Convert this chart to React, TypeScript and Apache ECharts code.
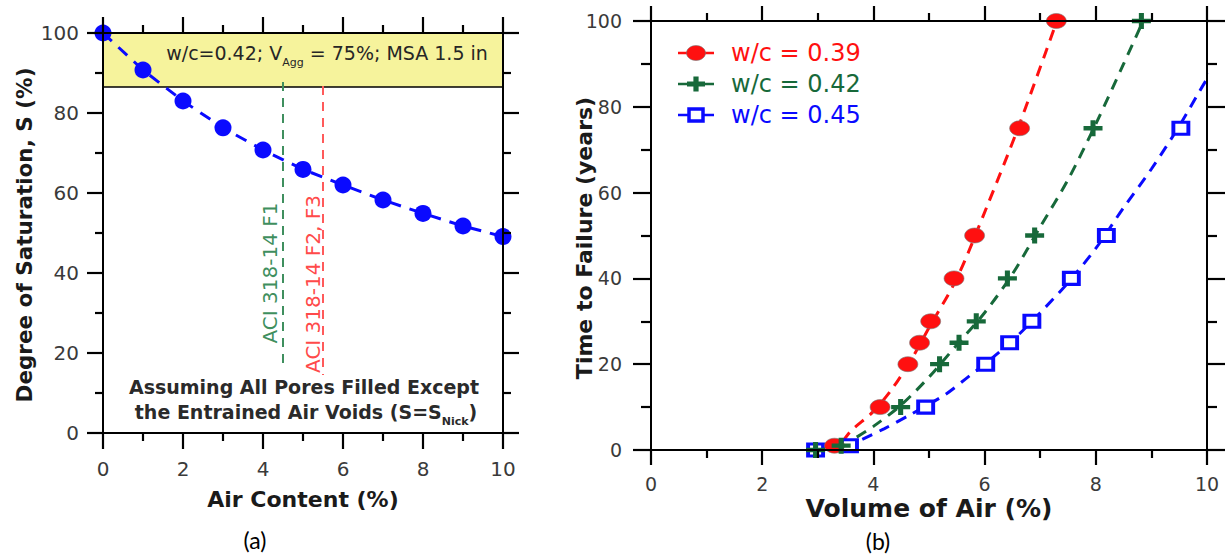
import React, { useEffect, useRef } from "react";
import * as echarts from "echarts";

// ---------- Panel (a) data ----------
const AIR_CONTENT = [0, 1, 2, 3, 4, 5, 6, 7, 8, 9, 10];
const SATURATION = [100, 90.75, 83, 76.3, 70.75, 65.9, 62, 58.25, 54.9, 51.75, 49.1];
const ACI_F1_LINE = [[4.5, 87.75], [4.5, 17.5]];
const ACI_F23_LINE = [[5.5, 86.75], [5.5, 14.5]];
const BOX_RANGE = [86.5, 100];
const LEFT_X_TICKS = { min: 0, max: 10, interval: 2 };
const LEFT_Y_TICKS = { min: 0, max: 100, interval: 20 };

// ---------- Panel (b) data ----------
const LEGEND_LABELS = ["w/c = 0.39", "w/c = 0.42", "w/c = 0.45"];
const RED_X = [3.3, 4.12, 4.62, 4.83, 5.03, 5.45, 5.82, 6.63, 7.29];
const RED_Y = [1, 10, 20, 25, 30, 40, 50, 75, 100];
const GREEN_X = [2.96, 3.42, 4.49, 5.19, 5.54, 5.85, 6.41, 6.9, 7.95, 8.82];
const GREEN_Y = [0, 1, 10, 20, 25, 30, 40, 50, 75, 100];
const BLUE_X = [2.96, 3.57, 4.94, 6.02, 6.45, 6.85, 7.56, 8.19, 9.53];
const BLUE_Y = [0, 1, 10, 20, 25, 30, 40, 50, 75];
const RED_FIT_X = [3.45, 3.6, 4.0, 4.35, 4.7, 5.0, 5.5, 6.05, 6.6, 7.3];
const RED_FIT_Y = [2, 4.5, 9, 14.5, 21.5, 28.5, 40, 57, 75, 100];
const GREEN_FIT_X = [3.7, 4.0, 4.5, 5.0, 5.5, 6.0, 6.5, 7.0, 7.5, 8.0, 8.5, 8.85];
const GREEN_FIT_Y = [3, 5.5, 10.5, 17, 24.5, 32, 41, 52, 63, 76, 90, 100];
const BLUE_FIT_X = [3.8, 4.2, 4.7, 5.3, 5.7, 6.0, 6.5, 7.0, 7.5, 8.0, 8.5, 9.0, 9.5, 10.0, 10.35];
const BLUE_FIT_Y = [2.5, 5, 8.5, 13, 17, 20, 25.5, 32, 39, 47, 56.5, 65.5, 75.5, 86.5, 93];
const RIGHT_X_TICKS = { min: 0, max: 10, interval: 2 };
const RIGHT_Y_TICKS = { min: 0, max: 100, interval: 20 };

const zip = (xs: number[], ys: number[]) => xs.map((x, i) => [x, ys[i]]);

const FONT = "DejaVu Sans";
const RED = "#ff1010";
const GREEN = "#17693a";
const BLUE = "#0a0aff";
const PLUS_PATH = "path://M5.5,0H9.5V5.5H15V9.5H9.5V15H5.5V9.5H0V5.5H5.5Z";

function makeAxis(grid: number, pos: string, ticks: any, showLabel: boolean, majorLen: number, minorLen: number, margin: number, fontSize: number) {
  return {
    type: "value",
    gridIndex: grid,
    position: pos,
    min: ticks.min,
    max: ticks.max,
    interval: ticks.interval,
    z: 10,
    axisLine: { show: true, onZero: false, lineStyle: { color: "#000", width: 2 } },
    axisTick: { show: true, inside: false, length: majorLen, lineStyle: { color: "#000", width: 2.2 } },
    minorTick: { show: true, splitNumber: 2, length: minorLen, lineStyle: { color: "#000", width: 2.2 } },
    splitLine: { show: false },
    minorSplitLine: { show: false },
    axisLabel: { show: showLabel, margin, color: "#3a3a3a", fontSize, fontFamily: FONT },
  };
}

function legendItems() {
  const rows = [53, 84, 115];
  const x1 = 678, x2 = 714, cx = 696, tx = 731;
  const colors = [RED, GREEN, BLUE];
  const els: any[] = [];
  rows.forEach((y, i) => {
    els.push({ type: "line", shape: { x1, y1: y, x2, y2: y }, style: { stroke: colors[i], lineWidth: 2.5 }, z: 10 });
    if (i === 0) {
      els.push({ type: "ellipse", shape: { cx, cy: y, rx: 9.5, ry: 7.5 }, style: { fill: RED, stroke: "#777", lineWidth: 0.6 }, z: 11 });
    } else if (i === 1) {
      const a = 2.6, w = 9, h = 7.5;
      els.push({
        type: "polygon",
        shape: {
          points: [
            [cx - a, y - h], [cx + a, y - h], [cx + a, y - a], [cx + w, y - a], [cx + w, y + a], [cx + a, y + a],
            [cx + a, y + h], [cx - a, y + h], [cx - a, y + a], [cx - w, y + a], [cx - w, y - a], [cx - a, y - a],
          ],
        },
        style: { fill: GREEN },
        z: 11,
      });
    } else {
      els.push({ type: "rect", shape: { x: cx - 7, y: y - 6, width: 14, height: 12 }, style: { fill: "#fff", stroke: BLUE, lineWidth: 3.5 }, z: 11 });
    }
    els.push({
      type: "text",
      x: tx,
      y,
      style: { text: LEGEND_LABELS[i], fill: colors[i], fontSize: 24, fontFamily: FONT, align: "left", verticalAlign: "middle" },
      z: 11,
    });
  });
  return els;
}

export default function App() {
  const ref = useRef<HTMLDivElement>(null);
  useEffect(() => {
    if (!ref.current) return;
    const chart = echarts.init(ref.current, undefined, { renderer: "svg" });
    const option: any = {
      animation: false,
      backgroundColor: "#fff",
      grid: [
        { left: 103, top: 33, width: 400, height: 400 },
        { left: 651, top: 21, width: 556, height: 429 },
      ],
      xAxis: [
        makeAxis(0, "bottom", LEFT_X_TICKS, true, 16, 8, 26, 20),
        makeAxis(0, "top", LEFT_X_TICKS, false, 16, 8, 26, 20),
        makeAxis(1, "bottom", RIGHT_X_TICKS, true, 15, 8, 24, 19),
        makeAxis(1, "top", RIGHT_X_TICKS, false, 15, 8, 24, 19),
      ],
      yAxis: [
        makeAxis(0, "left", LEFT_Y_TICKS, true, 16, 8, 24, 20),
        makeAxis(0, "right", LEFT_Y_TICKS, false, 16, 8, 24, 20),
        makeAxis(1, "left", RIGHT_Y_TICKS, true, 18, 10, 29, 19),
        makeAxis(1, "right", RIGHT_Y_TICKS, false, 18, 10, 29, 19),
      ],
      series: [
        {
          type: "line",
          xAxisIndex: 0,
          yAxisIndex: 0,
          data: zip(AIR_CONTENT, SATURATION),
          symbol: "circle",
          symbolSize: 17,
          itemStyle: { color: BLUE },
          lineStyle: { color: BLUE, width: 3, type: [12, 9] },
          z: 5,
          markArea: {
            silent: true,
            itemStyle: { color: "#f6f39c", borderColor: "#000", borderWidth: 1.5 },
            data: [[{ coord: [LEFT_X_TICKS.min, BOX_RANGE[0]] }, { coord: [LEFT_X_TICKS.max, BOX_RANGE[1]] }]],
          },
        },
        {
          type: "line",
          xAxisIndex: 0,
          yAxisIndex: 0,
          data: ACI_F1_LINE,
          symbol: "none",
          lineStyle: { color: "#3f8f5e", width: 2, type: [9, 7] },
          z: 3,
        },
        {
          type: "line",
          xAxisIndex: 0,
          yAxisIndex: 0,
          data: ACI_F23_LINE,
          symbol: "none",
          lineStyle: { color: "#ff5a5a", width: 2, type: [9, 7] },
          z: 3,
        },
        {
          type: "line",
          xAxisIndex: 2,
          yAxisIndex: 2,
          data: zip(RED_FIT_X, RED_FIT_Y),
          symbol: "none",
          smooth: 0.3,
          lineStyle: { color: RED, width: 3, type: [11, 8] },
          z: 3,
        },
        {
          type: "line",
          xAxisIndex: 2,
          yAxisIndex: 2,
          data: zip(GREEN_FIT_X, GREEN_FIT_Y),
          symbol: "none",
          smooth: 0.3,
          lineStyle: { color: GREEN, width: 3, type: [11, 8] },
          z: 3,
        },
        {
          type: "line",
          xAxisIndex: 2,
          yAxisIndex: 2,
          data: zip(BLUE_FIT_X, BLUE_FIT_Y),
          symbol: "none",
          smooth: 0.3,
          clip: false,
          lineStyle: { color: BLUE, width: 3, type: [11, 8] },
          z: 3,
        },
        {
          type: "scatter",
          xAxisIndex: 2,
          yAxisIndex: 2,
          data: zip(BLUE_X, BLUE_Y),
          symbol: "rect",
          symbolSize: [15, 12],
          itemStyle: { color: "#fff", borderColor: BLUE, borderWidth: 3.5, opacity: 1 },
          z: 5,
        },
        {
          type: "scatter",
          xAxisIndex: 2,
          yAxisIndex: 2,
          data: zip(RED_X, RED_Y),
          symbol: "circle",
          symbolSize: [20, 15],
          itemStyle: { color: RED, borderColor: "#777", borderWidth: 0.6, opacity: 1 },
          z: 6,
        },
        {
          type: "scatter",
          xAxisIndex: 2,
          yAxisIndex: 2,
          data: zip(GREEN_X, GREEN_Y),
          symbol: PLUS_PATH,
          symbolSize: [19, 16],
          itemStyle: { color: GREEN, opacity: 1 },
          z: 7,
        },
      ],
      graphic: [
        // panel (a) texts
        {
          type: "text",
          x: 327,
          y: 53,
          z: 20,
          style: {
            text: "{m|w/c=0.42; V}{s|Agg}{m| = 75%; MSA 1.5 in}",
            align: "center",
            verticalAlign: "middle",
            rich: {
              m: { fontSize: 19, fontFamily: FONT, fill: "#262626" },
              s: { fontSize: 11, fontFamily: FONT, fill: "#262626", padding: [18, 0, 0, 0] },
            },
          },
        },
        {
          type: "text",
          x: 270,
          y: 273,
          rotation: Math.PI / 2,
          z: 20,
          style: { text: "ACI 318-14 F1", fontSize: 20, fontFamily: FONT, fill: "#3f8f5e", align: "center", verticalAlign: "middle" },
        },
        {
          type: "text",
          x: 313,
          y: 284,
          rotation: Math.PI / 2,
          z: 20,
          style: { text: "ACI 318-14 F2, F3", fontSize: 20, fontFamily: FONT, fill: "#ff4a4a", align: "center", verticalAlign: "middle" },
        },
        {
          type: "text",
          x: 304,
          y: 387,
          z: 20,
          style: { text: "Assuming All Pores Filled Except", fontSize: 19, fontWeight: "bold", fontFamily: FONT, fill: "#2a2a2a", align: "center", verticalAlign: "middle" },
        },
        {
          type: "text",
          x: 306,
          y: 412,
          z: 20,
          style: {
            text: "{m|the Entrained Air Voids (S=S}{s|Nick}{m|)}",
            align: "center",
            verticalAlign: "middle",
            rich: {
              m: { fontSize: 19, fontWeight: "bold", fontFamily: FONT, fill: "#2a2a2a" },
              s: { fontSize: 11, fontWeight: "bold", fontFamily: FONT, fill: "#2a2a2a", padding: [18, 0, 0, 0] },
            },
          },
        },
        {
          type: "text",
          x: 303,
          y: 499,
          z: 20,
          style: { text: "Air Content (%)", fontSize: 22, fontWeight: "bold", fontFamily: FONT, fill: "#1a1a1a", align: "center", verticalAlign: "middle" },
        },
        {
          type: "text",
          x: 24,
          y: 235,
          rotation: Math.PI / 2,
          z: 20,
          style: { text: "Degree of Saturation, S (%)", fontSize: 21.5, fontWeight: "bold", fontFamily: FONT, fill: "#1a1a1a", align: "center", verticalAlign: "middle" },
        },
        {
          type: "text",
          x: 255,
          y: 540,
          z: 20,
          style: { text: "(a)", fontSize: 23, fontFamily: "Lato", fill: "#000", align: "center", verticalAlign: "middle" },
        },
        // panel (b) texts
        {
          type: "text",
          x: 929,
          y: 508,
          z: 20,
          style: { text: "Volume of Air (%)", fontSize: 25, fontWeight: "bold", fontFamily: FONT, fill: "#1a1a1a", align: "center", verticalAlign: "middle" },
        },
        {
          type: "text",
          x: 584,
          y: 238,
          rotation: Math.PI / 2,
          z: 20,
          style: { text: "Time to Failure (years)", fontSize: 22, fontWeight: "bold", fontFamily: FONT, fill: "#1a1a1a", align: "center", verticalAlign: "middle" },
        },
        {
          type: "text",
          x: 878,
          y: 541,
          z: 20,
          style: { text: "(b)", fontSize: 23, fontFamily: "Lato", fill: "#000", align: "center", verticalAlign: "middle" },
        },
        ...legendItems(),
      ],
    };
    chart.setOption(option);
    return () => chart.dispose();
  }, []);
  return <div ref={ref} style={{ position: "absolute", left: 0, top: 0, width: 1227, height: 557 }} />;
}
